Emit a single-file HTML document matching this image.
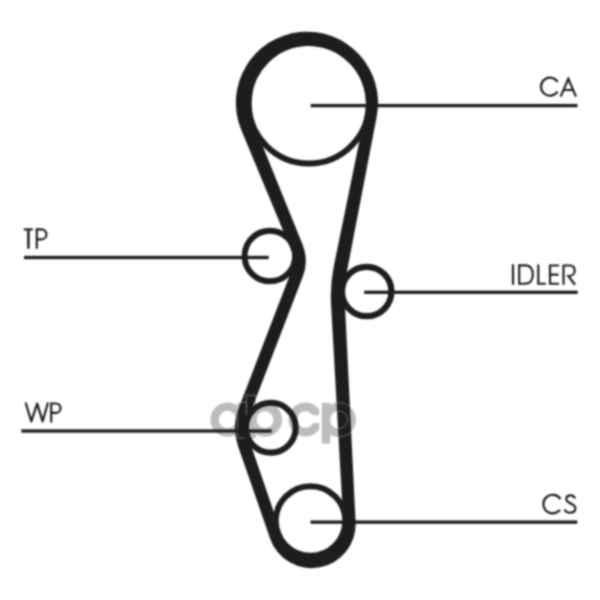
<!DOCTYPE html>
<html><head><meta charset="utf-8"><style>
html,body{margin:0;padding:0;background:#fff;width:600px;height:600px;overflow:hidden}
body{position:relative;font-family:"Liberation Sans",sans-serif}
</style></head><body>
<svg width="600" height="600" viewBox="0 0 600 600" style="position:absolute;left:0;top:0">
<defs><filter id='bl' x='0' y='0' width='600' height='600' filterUnits='userSpaceOnUse' color-interpolation-filters='sRGB'><feConvolveMatrix order='5' kernelMatrix='0.00139 0.00896 0.01660 0.00896 0.00139 0.00896 0.05768 0.10689 0.05768 0.00896 0.01660 0.10689 0.19810 0.10689 0.01660 0.00896 0.05768 0.10689 0.05768 0.00896 0.00139 0.00896 0.01660 0.00896 0.00139' divisor='1' preserveAlpha='false' edgeMode='none'/></filter></defs>
<g filter='url(#bl)'>
<rect width='600' height='600' fill='#fff'/>
<defs><clipPath id='cc'><path d='M0 0H319.2V415.3H309V423H319.2V600H0Z'/></clipPath></defs><g fill='#bcbdbf'><path fill-rule='evenodd' d='M210.40 419.60a17.10 17.10 0 1 0 34.20 0a17.10 17.10 0 1 0 -34.20 0Z M218.75 419.60a8.75 8.75 0 1 0 17.50 0a8.75 8.75 0 1 0 -17.50 0Z'/><rect x='237.6' y='402.5' width='8.8' height='35.7'/><path fill-rule='evenodd' d='M247.90 419.70a17.10 17.10 0 1 0 34.20 0a17.10 17.10 0 1 0 -34.20 0Z M256.50 419.70a8.50 8.50 0 1 0 17.00 0a8.50 8.50 0 1 0 -17.00 0Z'/><rect x='246.4' y='395.2' width='9.5' height='43'/><path clip-path='url(#cc)' fill-rule='evenodd' d='M288.50 419.50a16.90 16.90 0 1 0 33.80 0a16.90 16.90 0 1 0 -33.80 0Z M297.05 419.50a8.35 8.35 0 1 0 16.70 0a8.35 8.35 0 1 0 -16.70 0Z'/><path fill-rule='evenodd' d='M321.60 419.80a17.20 17.20 0 1 0 34.40 0a17.20 17.20 0 1 0 -34.40 0Z M330.00 419.80a8.80 8.80 0 1 0 17.60 0a8.80 8.80 0 1 0 -17.60 0Z'/><rect x='321.8' y='402.8' width='8.4' height='40.8'/></g>
<path d="M376.77 116.21L347.11 270.54A134.56 134.56 0 0 0 344.85 302.50L355.59 522.07A43.95 43.95 0 0 1 270.17 538.63L238.16 446.45A56.13 56.13 0 0 1 238.79 407.90L291.02 272.03A30.90 30.90 0 0 0 290.72 249.09L241.30 130.05A71.09 71.09 0 1 1 376.77 116.21ZM364.70 115.29L333.82 266.17A148.45 148.45 0 0 0 331.04 304.27L343.16 519.68A32.17 32.17 0 0 1 280.61 531.89L249.93 442.14A43.60 43.60 0 0 1 250.50 412.36L302.83 276.61A43.57 43.57 0 0 0 302.57 244.61L254.36 125.38A57.87 57.87 0 1 1 364.70 115.29Z" fill="#1d1d1d" fill-rule="evenodd"/>
<g fill='none' stroke='#6a6a6a' stroke-width='1' style='mix-blend-mode:lighten'><rect x='237.6' y='402.5' width='8.8' height='35.7'/><rect x='246.4' y='395.2' width='9.5' height='43'/><path d='M321.60 419.80a17.20 17.20 0 1 0 34.40 0a17.20 17.20 0 1 0 -34.40 0Z M330.00 419.80a8.80 8.80 0 1 0 17.60 0a8.80 8.80 0 1 0 -17.60 0Z'/><rect x='321.8' y='402.8' width='8.4' height='40.8'/></g>
<circle cx="308.85" cy="103.25" r="60.15" fill="none" stroke="#1d1d1d" stroke-width="6.00"/>
<circle cx="269.90" cy="256.00" r="25.30" fill="none" stroke="#1d1d1d" stroke-width="6.00"/>
<circle cx="366.70" cy="291.50" r="24.70" fill="none" stroke="#1d1d1d" stroke-width="6.20"/>
<circle cx="270.80" cy="427.70" r="24.90" fill="none" stroke="#1d1d1d" stroke-width="6.10"/>
<circle cx="310.50" cy="521.00" r="34.75" fill="none" stroke="#1d1d1d" stroke-width="6.00"/>
<rect x="310.70" y="103.95" width="266.80" height="3.30" fill="#1d1d1d"/>
<rect x="24.00" y="255.85" width="244.70" height="3.30" fill="#1d1d1d"/>
<rect x="364.20" y="290.65" width="213.50" height="3.30" fill="#1d1d1d"/>
<rect x="21.20" y="429.35" width="250.50" height="3.30" fill="#1d1d1d"/>
<rect x="310.50" y="520.45" width="266.80" height="3.30" fill="#1d1d1d"/>
<g fill='none' stroke='#1d1d1d' stroke-width='2.15' stroke-linejoin='miter' stroke-miterlimit='10'><path d='M557.6 81.93A9 9 0 1 0 557.6 91.47'/><path d='M560.7 96.7L568.3 78.8L576 96.7M564.1 90H572.5'/><path d='M23.8 229.4H32.8'/><path d='M28.4 229.4V248.7' stroke-width='2.5'/><path d='M36.8 248.7V229.4H41.5A4.95 4.95 0 0 1 41.5 239.3H36.8'/><path d='M513 264.3V284.7'/><path d='M519.2 284.7V265.4H525.3C530.6 265.4 532.8 269.6 532.8 274.55C532.8 279.5 530.6 283.7 525.3 283.7H519.2'/><path d='M538.3 264.4V283.75H545.9'/><path d='M559 265.5H550V283.75H559M550 274.6H558.6'/><path d='M563.5 284.75V265.5H569.8C573.1 265.5 574.7 267.9 574.7 270.7C574.7 273.8 572.4 276.1 568.4 276.1L575 284.75'/><path stroke-linejoin='round' d='M25.6 402.5L31.3 421.4L37.2 403.6L42.6 421.4L48 402.5'/><path d='M51.2 422.4V403.5H55.8A4.7 4.7 0 0 1 55.8 412.9H51.2'/><path d='M560.49 499.17A9.3 9.3 0 1 0 559.93 509.83'/><path d='M574.9 498.4C574.4 496.3 572.6 495.3 570.4 495.3C567.9 495.3 566.3 496.9 566.3 499.0C566.3 504.1 575.4 502.8 575.4 508.3C575.4 511.0 573.3 512.7 570.1 512.7C567.4 512.7 565.5 511.5 564.6 509.3'/></g>
</g>
</svg>
</body></html>
